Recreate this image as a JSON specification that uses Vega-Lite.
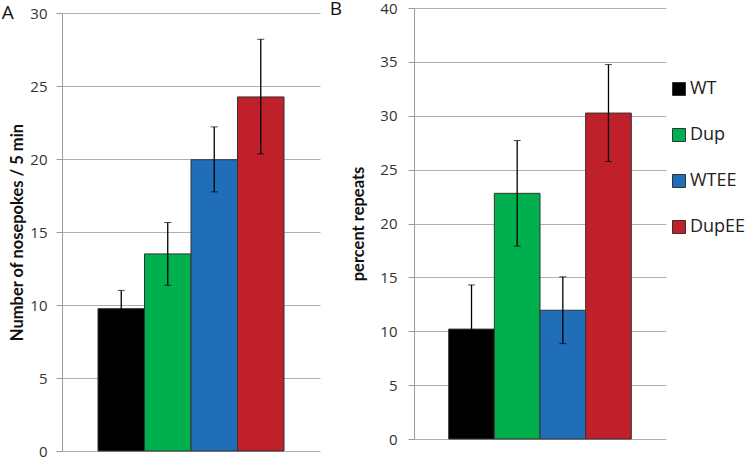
{
  "$schema": "https://vega.github.io/schema/vega-lite/v6.json",
  "padding": {"left": 1, "top": 0, "right": 0, "bottom": 0},
  "config": {
    "font": "Open Sans",
    "view": {"stroke": null},
    "axis": {
      "labelFont": "Open Sans", "labelFontSize": 15, "labelColor": "#333",
      "titleFont": "Lato", "titleFontSize": 16.5, "titleFontWeight": "bold", "titleColor": "#111",
      "gridColor": "#b0b0b0", "domainColor": "#999", "tickColor": "#999", "tickSize": 6
    },
    "title": {"font": "Open Sans", "fontSize": 19, "fontWeight": "normal", "color": "#111"}
  },
  "spacing": 9,
  "resolve": {"scale": {"color": "independent", "y": "independent"}, "legend": {"color": "independent"}},
  "hconcat": [
    {
      "width": 258, "height": 443,
      "title": {"text": "A", "anchor": "start", "frame": "bounds", "offset": 0, "dx": -8, "dy": 17},
      "data": {"values": [
        {"group": "WT", "mean": 9.75, "lo": 8.5, "hi": 11.0},
        {"group": "Dup", "mean": 13.5, "lo": 11.35, "hi": 15.65},
        {"group": "WTEE", "mean": 19.95, "lo": 17.75, "hi": 22.2},
        {"group": "DupEE", "mean": 24.25, "lo": 20.35, "hi": 28.2}
      ]},
      "layer": [
        {
          "mark": {"type": "bar", "stroke": "#333", "strokeWidth": 1},
          "encoding": {
            "x": {"field": "group", "type": "nominal", "sort": ["WT", "Dup", "WTEE", "DupEE"], "scale": {"paddingInner": 0, "paddingOuter": 0.774}, "axis": null},
            "y": {"field": "mean", "type": "quantitative", "scale": {"domain": [0, 30], "range": [443, 5], "nice": false},
                  "axis": {"values": [0, 5, 10, 15, 20, 25, 30], "title": "Number of nosepokes / 5 min", "grid": true, "labelPadding": 9, "titlePadding": 4}},
            "color": {"field": "group", "type": "nominal", "scale": {"domain": ["WT", "Dup", "WTEE", "DupEE"], "range": ["#000000", "#00B04F", "#1F6EB7", "#C0202A"]}, "legend": null}
          }
        },
        {
          "mark": {"type": "errorbar", "color": "black", "ticks": {"size": 7}, "rule": {"strokeWidth": 1.3}},
          "encoding": {
            "x": {"field": "group", "type": "nominal", "sort": ["WT", "Dup", "WTEE", "DupEE"], "axis": null},
            "y": {"field": "lo", "type": "quantitative", "title": "Number of nosepokes / 5 min"},
            "y2": {"field": "hi"}
          }
        }
      ]
    },
    {
      "width": 252, "height": 431,
      "title": {"text": "B", "anchor": "start", "frame": "bounds", "offset": 0, "dx": -21, "dy": 18},
      "data": {"values": [
        {"group": "WT", "mean": 10.2, "lo": 6.1, "hi": 14.3},
        {"group": "Dup", "mean": 22.8, "lo": 17.9, "hi": 27.7},
        {"group": "WTEE", "mean": 11.95, "lo": 8.85, "hi": 15.05},
        {"group": "DupEE", "mean": 30.25, "lo": 25.75, "hi": 34.75}
      ]},
      "layer": [
        {
          "mark": {"type": "bar", "stroke": "#333", "strokeWidth": 1},
          "encoding": {
            "x": {"field": "group", "type": "nominal", "sort": ["WT", "Dup", "WTEE", "DupEE"], "scale": {"paddingInner": 0, "paddingOuter": 0.76}, "axis": null},
            "y": {"field": "mean", "type": "quantitative", "scale": {"domain": [0, 40], "nice": false},
                  "axis": {"values": [0, 5, 10, 15, 20, 25, 30, 35, 40], "title": "percent repeats", "grid": true, "labelPadding": 11, "titlePadding": 13}},
            "color": {"field": "group", "type": "nominal", "sort": ["WT", "Dup", "WTEE", "DupEE"],
                      "scale": {"domain": ["WT", "Dup", "WTEE", "DupEE"], "range": ["#000000", "#00B04F", "#1F6EB7", "#C0202A"]},
                      "legend": {"title": null, "orient": "none", "legendX": 256, "legendY": 72, "padding": 0,
                                 "symbolType": "square", "symbolSize": 169, "symbolStrokeColor": "#333", "symbolStrokeWidth": 1,
                                 "labelFontSize": 18, "labelFont": "Open Sans", "labelColor": "#222", "labelOffset": 2, "rowPadding": 28}}
          }
        },
        {
          "mark": {"type": "errorbar", "color": "black", "ticks": {"size": 7}, "rule": {"strokeWidth": 1.3}},
          "encoding": {
            "x": {"field": "group", "type": "nominal", "sort": ["WT", "Dup", "WTEE", "DupEE"], "axis": null},
            "y": {"field": "lo", "type": "quantitative", "title": "percent repeats"},
            "y2": {"field": "hi"}
          }
        }
      ]
    }
  ]
}
